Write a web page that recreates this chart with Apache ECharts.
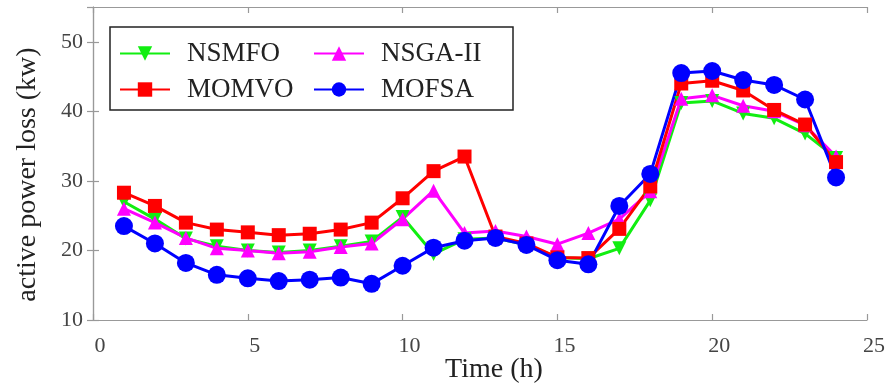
<!DOCTYPE html>
<html>
<head>
<meta charset="utf-8">
<script src="https://cdn.jsdelivr.net/npm/echarts@6/dist/echarts.min.js"></script>
<style>
html,body{margin:0;padding:0;background:#fff;}
#chart{width:887px;height:387px;}
</style>
</head>
<body>
<div id="chart"></div>
<script>
const hours = [1,2,3,4,5,6,7,8,9,10,11,12,13,14,15,16,17,18,19,20,21,22,23,24];
const nsmfo = [27.0,24.5,21.7,20.6,20.0,19.7,20.0,20.6,21.3,24.8,19.5,21.6,21.8,20.8,19.0,18.8,20.3,27.2,41.2,41.5,39.7,39.0,36.8,33.3];
const nsga2 = [26.0,24.0,21.8,20.3,20.0,19.6,19.8,20.5,21.0,24.5,28.6,22.5,22.8,22.0,20.9,22.5,24.5,28.5,41.8,42.3,40.8,40.0,38.0,33.5];
const momvo = [28.3,26.4,24.0,23.0,22.6,22.2,22.4,23.0,24.0,27.5,31.4,33.5,22.0,21.0,19.0,18.9,23.1,29.2,44.0,44.4,43.0,40.2,38.1,32.7];
const mofsa = [23.5,21.0,18.2,16.5,16.0,15.6,15.8,16.1,15.2,17.8,20.4,21.4,21.8,20.8,18.6,18.0,26.4,31.0,45.5,45.8,44.5,43.8,41.7,30.5];
const xTicks = [0,5,10,15,20,25];
const yTicks = [10,20,30,40,50];

const pair = arr => hours.map((h,i)=>[h,arr[i]]);
const font = '"Liberation Serif","Times New Roman",serif';

const chart = echarts.init(document.getElementById('chart'), null, {renderer:'canvas'});
const axisLineStyle = {color:'#999', width:1.2};
const baseSeries = (name, data, color, symbol, size, rot) => ({
  name, type:'line', data: pair(data), symbol, symbolSize:size, symbolRotate:rot||0,
  lineStyle:{color, width:3}, itemStyle:{color}, animation:false
});
chart.setOption({
  backgroundColor:'#fff',
  textStyle:{fontFamily:font},
  grid:{left:93,right:20,top:7,bottom:67,containLabel:false,outerBoundsMode:'none'},
  legend:{
    data:['NSMFO','NSGA-II','MOMVO','MOFSA'],
    left:110, top:27, width:390, orient:'horizontal',
    itemWidth:50, itemHeight:18, itemGap:5,
    padding:[11,11,5,9],
    borderColor:'#222', borderWidth:1.5,
    textStyle:{fontFamily:font, fontSize:27, color:'#222', width:121, lineHeight:31, padding:[0,0,0,12]}
  },
  xAxis:[{
    type:'value', min:0, max:25, interval:5,
    name:'Time (h)', nameLocation:'middle', nameGap:36, nameMoveOverlap:false,
    nameTextStyle:{fontFamily:font, fontSize:28, color:'#222', padding:[0,0,0,28]},
    axisLine:{show:true, lineStyle:axisLineStyle},
    axisTick:{show:true, inside:true, length:6, lineStyle:axisLineStyle},
    axisLabel:{fontFamily:font, fontSize:22, color:'#444', margin:15, padding:[0,0,0,14],
      formatter: v => xTicks.includes(v) ? String(v) : ''},
    splitLine:{show:false}
  },{
    type:'value', min:0, max:25, interval:5, position:'top',
    axisLine:{show:true, lineStyle:axisLineStyle},
    axisTick:{show:true, inside:true, length:6, lineStyle:axisLineStyle},
    axisLabel:{show:false}, splitLine:{show:false}
  }],
  yAxis:[{
    type:'value', min:10, max:55, interval:10,
    name:'active power loss (kw)', nameLocation:'middle', nameGap:51, nameMoveOverlap:false,
    nameTextStyle:{fontFamily:font, fontSize:28, color:'#222', padding:[0,22,0,0]},
    axisLine:{show:true, lineStyle:axisLineStyle},
    axisTick:{show:true, inside:true, length:6, lineStyle:axisLineStyle},
    axisLabel:{fontFamily:font, fontSize:22, color:'#444', margin:10, showMaxLabel:false,
      formatter: v => yTicks.includes(v) ? String(v) : ''},
    splitLine:{show:false}
  },{
    type:'value', min:10, max:55, interval:10, position:'right',
    axisLine:{show:true, lineStyle:axisLineStyle},
    axisTick:{show:true, inside:true, length:6, lineStyle:axisLineStyle},
    axisLabel:{show:false}, splitLine:{show:false}
  }],
  series:[
    baseSeries('NSMFO', nsmfo, '#11ee11', 'triangle', 14, 180),
    baseSeries('NSGA-II', nsga2, '#ff00ff', 'triangle', 14, 0),
    baseSeries('MOMVO', momvo, '#ff0000', 'rect', 14, 0),
    baseSeries('MOFSA', mofsa, '#0000ff', 'circle', 18, 0)
  ]
});
</script>
</body>
</html>
